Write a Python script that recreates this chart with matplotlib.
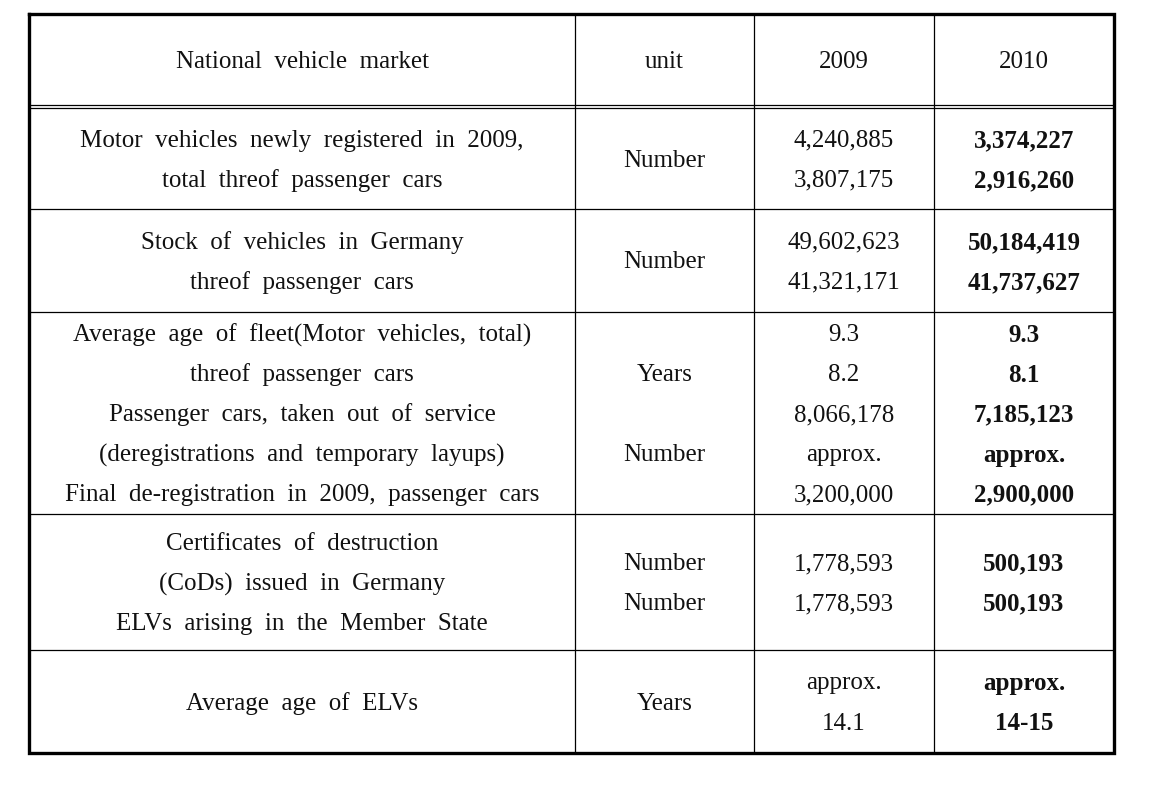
import matplotlib.pyplot as plt

## table content
header = ['National vehicle market', 'unit', '2009', '2010']

labels = [
    ['Motor vehicles newly registered in 2009,', 'total threof passenger cars'],
    ['Stock of vehicles in Germany', 'threof passenger cars'],
    ['Average age of fleet(Motor vehicles, total)', 'threof passenger cars',
     'Passenger cars, taken out of service',
     '(deregistrations and temporary layups)',
     'Final de-registration in 2009, passenger cars'],
    ['Certificates of destruction', '(CoDs) issued in Germany',
     'ELVs arising in the Member State'],
    ['Average age of ELVs'],
]
units = [
    ['Number'],
    ['Number'],
    ['', 'Years', '', 'Number', ''],
    ['', 'Number', 'Number', ''],
    ['Years'],
]
vals_2009 = [
    ['4,240,885', '3,807,175'],
    ['49,602,623', '41,321,171'],
    ['9.3', '8.2', '8,066,178', 'approx.', '3,200,000'],
    ['', '1,778,593', '1,778,593', ''],
    ['approx.', '14.1'],
]
vals_2010 = [
    ['3,374,227', '2,916,260'],
    ['50,184,419', '41,737,627'],
    ['9.3', '8.1', '7,185,123', 'approx.', '2,900,000'],
    ['', '500,193', '500,193', ''],
    ['approx.', '14-15'],
]

## layout in pixels
W, H = 1149, 789
col_x = [29, 575, 754, 934, 1114]
row_y = [14, 106, 209, 312, 514, 650, 753]
line_gap = 40
dy = 2  # text sits a bit low in the cells

fig = plt.figure(figsize=(W / 100, H / 100), dpi=100)
ax = fig.add_axes([0, 0, 1, 1])
ax.set_xlim(0, W)
ax.set_ylim(H, 0)
ax.axis('off')

font = dict(family='Liberation Serif', fontsize=18, color='#111111')

## grid lines
for x in col_x[1:-1]:
    ax.plot([x, x], [row_y[0], row_y[-1]], color='black', lw=0.9)
for y in row_y[2:-1]:
    ax.plot([col_x[0], col_x[-1]], [y, y], color='black', lw=0.9)
# double line under header
ax.plot([col_x[0], col_x[-1]], [row_y[1] - 1.5, row_y[1] - 1.5], color='black', lw=0.9)
ax.plot([col_x[0], col_x[-1]], [row_y[1] + 1.5, row_y[1] + 1.5], color='black', lw=0.9)
# outer frame
ax.plot([col_x[0], col_x[-1], col_x[-1], col_x[0], col_x[0]],
        [row_y[0], row_y[0], row_y[-1], row_y[-1], row_y[0]],
        color='black', lw=2.4, solid_joinstyle='miter')


def wide(s):
    # the original uses very loose word spacing
    return s.replace(' ', '  ')


## header
for j, h in enumerate(header):
    cx = (col_x[j] + col_x[j + 1]) / 2
    cy = (row_y[0] + row_y[1]) / 2 + dy
    ax.text(cx, cy, wide(h), ha='center', va='center', **font)


def put_lines(lines, j, top, bottom, bold=False):
    n = len(lines)
    cx = (col_x[j] + col_x[j + 1]) / 2
    mid = (top + bottom) / 2 + dy
    for k, s in enumerate(lines):
        if s == '':
            continue
        cy = mid + (k - (n - 1) / 2) * line_gap
        ax.text(cx, cy, wide(s), ha='center', va='center',
                fontweight='bold' if bold else 'normal', **font)


for i in range(len(labels)):
    top, bottom = row_y[i + 1], row_y[i + 2]
    if i == 0:
        top += 2
    put_lines(labels[i], 0, top, bottom)
    put_lines(units[i], 1, top, bottom)
    put_lines(vals_2009[i], 2, top, bottom)
    put_lines(vals_2010[i], 3, top, bottom, bold=True)

plt.savefig('out.png', dpi=100)
